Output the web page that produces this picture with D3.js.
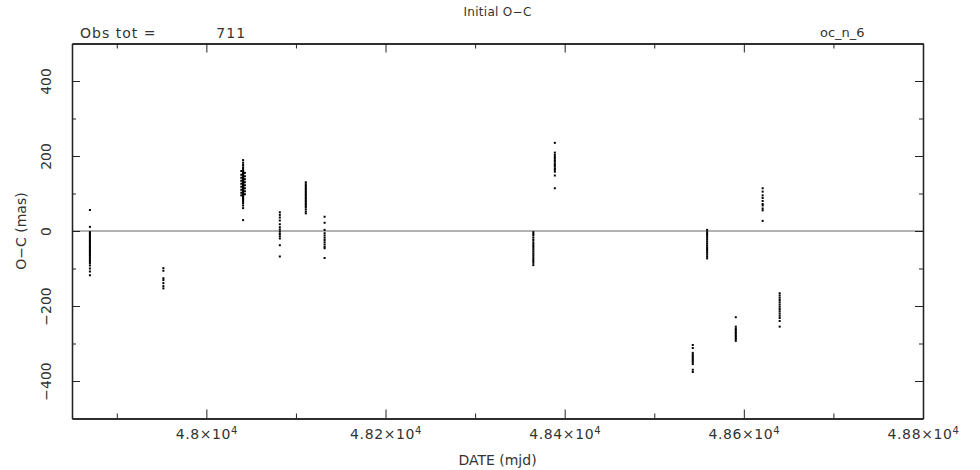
<!DOCTYPE html>
<html>
<head>
<meta charset="utf-8">
<script src="https://cdn.jsdelivr.net/npm/d3@7"></script>
<style>
body { margin: 0; background: #fff; }
text { font-family: "DejaVu Sans", sans-serif; fill: #333; }
</style>
</head>
<body>
<div id="chart"></div>
<script>
// epoch of each night (mjd)
var epochs = [47870, 47952, 48039, 48041, 48043, 48082, 48111, 48132, 48365, 48389, 48543, 48559, 48591, 48621, 48640];

// O-C residuals (mas) for each night, same order as epochs
var oc01 = [56, 11, -3, -6, -9, -12, -16, -20, -24, -27, -30, -33, -36, -40, -43, -46, -50, -53, -56, -60, -63, -66, -70, -74, -78, -82, -86, -92, -100, -108, -118];
var oc02 = [-99, -106, -126, -131, -139, -147, -153];
var oc03 = [160, 150, 142, 134, 126, 118, 110, 102, 95];
var oc04 = [189, 182, 176, 170, 166, 162, 158, 155, 152, 149, 146, 143, 140, 138, 136, 134, 132, 130, 128, 126, 124, 122, 120, 118, 116, 114, 112, 110, 108, 106, 104, 102, 100, 97, 94, 91, 88, 85, 82, 78, 74, 68, 61, 29];
var oc05 = [155, 146, 138, 130, 122, 114, 106, 98];
var oc06 = [50, 43, 36, 28, 18, 10, 4, -2, -8, -14, -20, -38, -68];
var oc07 = [130, 125, 120, 116, 112, 108, 104, 100, 96, 92, 88, 84, 80, 76, 72, 68, 64, 58, 52, 47];
var oc08 = [38, 22, 3, -6, -12, -18, -24, -30, -36, -42, -46, -72];
var oc09 = [-3, -8, -12, -18, -24, -30, -35, -40, -45, -50, -55, -60, -65, -70, -75, -80, -85, -91];
var oc10 = [235, 209, 203, 198, 194, 189, 185, 180, 176, 172, 167, 163, 158, 148, 114];
var oc11 = [-304, -312, -325, -330, -334, -338, -342, -346, -350, -355, -370, -376];
var oc12 = [3, -3, -8, -13, -18, -23, -28, -33, -38, -43, -48, -53, -58, -63, -68, -73];
var oc13 = [-230, -255, -260, -264, -268, -272, -276, -280, -284, -288, -293];
var oc14 = [114, 105, 95, 88, 80, 72, 68, 60, 55, 27];
var oc15 = [-166, -172, -178, -184, -190, -196, -202, -208, -214, -220, -226, -232, -240, -255];
var nights = [oc01, oc02, oc03, oc04, oc05, oc06, oc07, oc08, oc09, oc10, oc11, oc12, oc13, oc14, oc15];

var xMajor = [48000, 48200, 48400, 48600, 48800];
var xMinor = [47900, 48100, 48300, 48500, 48700];
var yMajor = [-400, -200, 0, 200, 400];
var yMinor = [-300, -100, 100, 300];

var title = "Initial O\u2212C";
var obsLabel = "Obs tot =           711";
var fileLabel = "oc_n_6";

// frame of the plot
var margin = {top: 43.5, right: 57, bottom: 51.5, left: 72},
    W = 980, H = 470,
    width = W - margin.left - margin.right,
    height = H - margin.top - margin.bottom;

var x = d3.scaleLinear().domain([47850, 48800]).range([0, width]);
var y = d3.scaleLinear().domain([-500, 500]).range([height, 0]);

var svg = d3.select("#chart").append("svg")
    .attr("width", W)
    .attr("height", H)
    .append("g")
    .attr("transform", "translate(" + margin.left + "," + margin.top + ")");

// zero line
svg.append("line")
    .attr("x1", 0).attr("x2", width)
    .attr("y1", y(0)).attr("y2", y(0))
    .style("stroke", "#666")
    .style("stroke-width", 1.2);

// points
var pts = [];
nights.forEach(function(vals, i) {
    vals.forEach(function(v) { pts.push({date: epochs[i], oc: v}); });
});
svg.selectAll("rect.pt")
    .data(pts)
    .enter().append("rect")
    .attr("class", "pt")
    .attr("x", function(d) { return x(d.date) - 1; })
    .attr("y", function(d) { return y(d.oc) - 1; })
    .attr("width", 2)
    .attr("height", 2)
    .style("fill", "#000");

// axes (ticks pointing inward)
function axisStyle(g) {
    g.selectAll("path.domain").style("stroke", "#222").style("stroke-width", 1.3);
    g.selectAll(".tick line").style("stroke", "#222").style("stroke-width", 1);
}

var xb = svg.append("g").attr("transform", "translate(0," + height + ")")
    .call(d3.axisBottom(x).tickValues(xMajor).tickSize(-9).tickSizeOuter(0).tickPadding(11)
        .tickFormat(function(d) { return d3.format(".3~f")(d / 10000); }));
xb.call(axisStyle);
xb.selectAll(".tick text")
    .style("font-size", "14px")
    .style("letter-spacing", "0.6px")
    .attr("fill", "#333")
    .each(function() {
        var t = d3.select(this), s = t.text();
        t.text(s + "\u00d710");
        t.append("tspan").attr("dy", "-0.55em").style("font-size", "10px").text("4");
    });
svg.append("g").attr("transform", "translate(0," + height + ")")
    .call(d3.axisBottom(x).tickValues(xMinor).tickSize(-5).tickSizeOuter(0).tickFormat(""))
    .call(axisStyle);

svg.append("g")
    .call(d3.axisTop(x).tickValues(xMajor).tickSize(-9).tickSizeOuter(0).tickFormat(""))
    .call(axisStyle);
svg.append("g")
    .call(d3.axisTop(x).tickValues(xMinor).tickSize(-5).tickSizeOuter(0).tickFormat(""))
    .call(axisStyle);

var yl = svg.append("g")
    .call(d3.axisLeft(y).tickValues(yMajor).tickSize(-8).tickSizeOuter(0).tickFormat(d3.format("d")));
yl.call(axisStyle);
yl.selectAll(".tick text")
    .style("font-size", "14px")
    .attr("fill", "#333")
    .attr("text-anchor", "middle")
    .attr("x", 0)
    .attr("y", -21)
    .attr("dy", 0)
    .attr("transform", "rotate(-90)")
    .text(function(d) { return d < 0 ? "\u2212" + Math.abs(d) : d; });
svg.append("g")
    .call(d3.axisLeft(y).tickValues(yMinor).tickSize(-4).tickSizeOuter(0).tickFormat(""))
    .call(axisStyle);

svg.append("g").attr("transform", "translate(" + width + ",0)")
    .call(d3.axisRight(y).tickValues(yMajor).tickSize(-8).tickSizeOuter(0).tickFormat(""))
    .call(axisStyle);
svg.append("g").attr("transform", "translate(" + width + ",0)")
    .call(d3.axisRight(y).tickValues(yMinor).tickSize(-4).tickSizeOuter(0).tickFormat(""))
    .call(axisStyle);

// labels
svg.append("text")
    .attr("x", width / 2)
    .attr("y", -28)
    .attr("text-anchor", "middle")
    .style("font-size", "12px")
    .style("letter-spacing", "0.3px")
    .text(title);

svg.append("text")
    .attr("x", 8)
    .attr("y", -6)
    .style("font-size", "14px")
    .style("letter-spacing", "1px")
    .style("white-space", "pre")
    .attr("xml:space", "preserve")
    .text(obsLabel);

svg.append("text")
    .attr("x", x(48685))
    .attr("y", -7)
    .style("font-size", "13px")
    .text(fileLabel);

svg.append("text")
    .attr("x", width / 2)
    .attr("y", height + 46)
    .attr("text-anchor", "middle")
    .style("font-size", "14px")
    .text("DATE (mjd)");

svg.append("text")
    .attr("transform", "translate(-46," + (height / 2) + ") rotate(-90)")
    .attr("text-anchor", "middle")
    .style("font-size", "14px")
    .text("O\u2212C (mas)");
</script>
</body>
</html>
